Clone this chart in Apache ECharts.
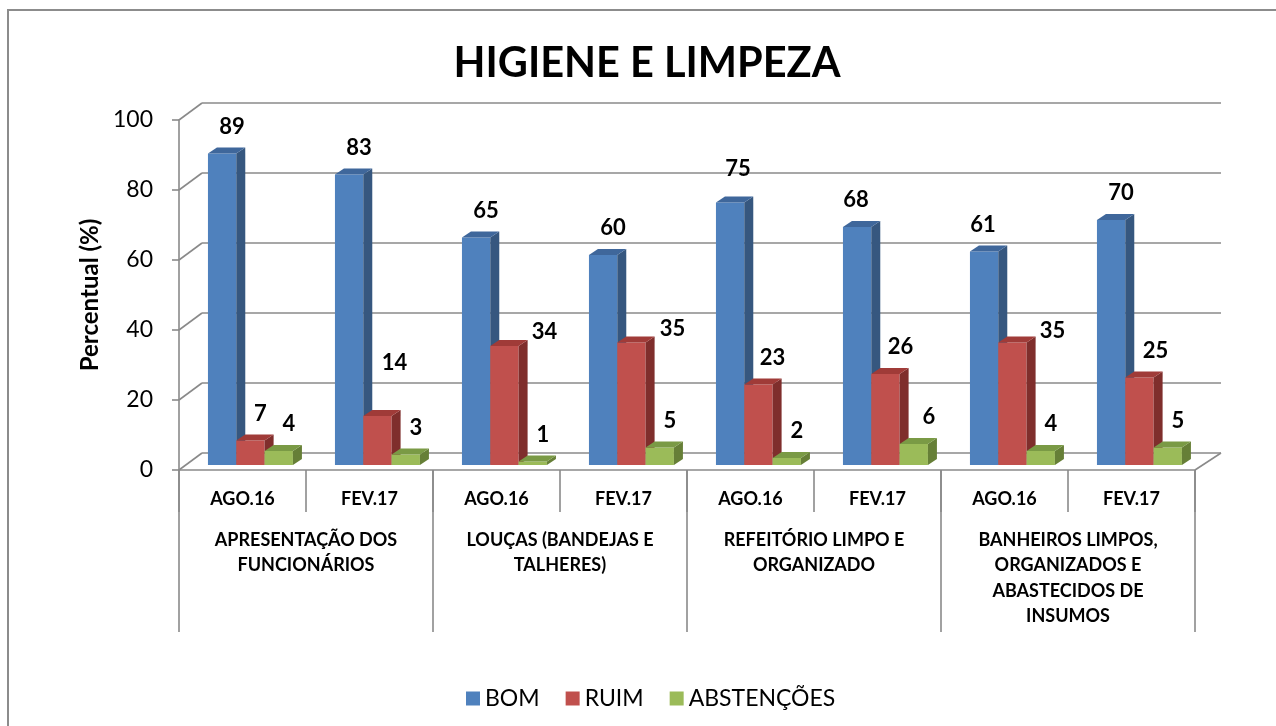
<!DOCTYPE html>
<html>
<head>
<meta charset="utf-8">
<script src="https://cdn.jsdelivr.net/npm/echarts@6/dist/echarts.min.js"></script>
<style>
  html, body { margin: 0; padding: 0; background: #ffffff; }
  #chart { width: 1276px; height: 726px; }
</style>
</head>
<body>
<div id="chart"></div>
<script>
// ---- data ----
const subCategories = ['AGO.16', 'FEV.17', 'AGO.16', 'FEV.17', 'AGO.16', 'FEV.17', 'AGO.16', 'FEV.17'];
const groupCategories = [
  'APRESENTAÇÃO DOS\nFUNCIONÁRIOS',
  'LOUÇAS (BANDEJAS E\nTALHERES)',
  'REFEITÓRIO LIMPO E\nORGANIZADO',
  'BANHEIROS LIMPOS,\nORGANIZADOS E\nABASTECIDOS DE\nINSUMOS'
];
const seriesNames = ['BOM', 'RUIM', 'ABSTENÇÕES'];
const bom = [89, 83, 65, 60, 75, 68, 61, 70];
const ruim = [7, 14, 34, 35, 23, 26, 35, 25];
const abstencoes = [4, 3, 1, 5, 2, 6, 4, 5];
const yTicks = [0, 20, 40, 60, 80, 100];

// ---- styling / layout ----
const FONT = 'Lato, "Open Sans", sans-serif';
const palette = [
  { front: '#4F81BD', side: '#36577F', top: '#3F679B' },
  { front: '#C0504D', side: '#7F2E2C', top: '#A03B38' },
  { front: '#9BBB59', side: '#667F37', top: '#7A9A45' }
];
const GRID_COLOR = '#8a8a8a';
const WALL_DX = 23, WALL_DX_R = 26, WALL_DY = -17;   // back wall depth
const BAR_DX = 9, BAR_DY = -6;                       // bar depth
const BAR_BASE_DX = 0, BAR_BASE_DY = -5;             // bars sit slightly behind front plane
const CLUSTER_START = 0.228, BAR_FRAC = 0.223;
const LABEL_DX = 10, LABEL_DY = -27;
// manual label nudges (series-index, category-index): [dx, dy]
const labelNudge = {
  '1-1': [7, -26], '1-2': [30, 13], '1-3': [31, 13], '1-6': [30, 15],
  '0-4': [-2, -7], '0-5': [-11, 0], '0-6': [-11, 0],
  '1-4': [4, 0], '1-5': [5, 0], '2-5': [5, 0], '1-7': [6, 0]
};

const chart = echarts.init(document.getElementById('chart'), null, { renderer: 'canvas' });

function wallRender(params, api) {
  const v = api.value(1);
  const bw = api.size([1, 0])[0];
  const pL = api.coord([0, v]);
  const left = pL[0] - bw / 2;
  const right = api.coord([subCategories.length - 1, v])[0] + bw / 2;
  const y = pL[1];
  const st = { stroke: GRID_COLOR, lineWidth: 1.6 };
  const children = [
    { type: 'line', shape: { x1: left, y1: y, x2: left + WALL_DX, y2: y + WALL_DY }, style: st },
    { type: 'line', shape: { x1: left + WALL_DX, y1: y + WALL_DY, x2: right + WALL_DX_R, y2: y + WALL_DY }, style: st }
  ];
  if (v === 0) {
    children.push({ type: 'line', shape: { x1: right, y1: y, x2: right + WALL_DX_R, y2: y + WALL_DY }, style: st });
  }
  return { type: 'group', children };
}

function makeBarSeries(sIdx, values) {
  const col = palette[sIdx];
  return {
    type: 'custom',
    name: seriesNames[sIdx],
    xAxisIndex: 0,
    yAxisIndex: 0,
    itemStyle: { color: col.front },
    data: values.map((v, i) => [i, v]),
    z: 3,
    renderItem: function (params, api) {
      const i = api.value(0);
      const v = api.value(1);
      const bw = api.size([1, 0])[0];
      const base = api.coord([i, 0]);
      const top = api.coord([i, v]);
      const w = bw * BAR_FRAC;
      const x0 = base[0] - bw / 2 + bw * CLUSTER_START + sIdx * w + BAR_BASE_DX;
      const yb = base[1] + BAR_BASE_DY;
      const yt = top[1] + BAR_BASE_DY;
      const nudge = labelNudge[sIdx + '-' + i] || [0, 0];
      return {
        type: 'group',
        children: [
          { type: 'rect', shape: { x: x0, y: yt, width: w, height: yb - yt }, style: { fill: col.front } },
          { type: 'polygon', shape: { points: [[x0 + w, yt], [x0 + w + BAR_DX, yt + BAR_DY], [x0 + w + BAR_DX, yb + BAR_DY], [x0 + w, yb]] }, style: { fill: col.side } },
          { type: 'polygon', shape: { points: [[x0, yt], [x0 + BAR_DX, yt + BAR_DY], [x0 + w + BAR_DX, yt + BAR_DY], [x0 + w, yt]] }, style: { fill: col.top } },
          { type: 'text', z2: 100, style: {
              text: String(v), x: x0 + w / 2 + LABEL_DX + nudge[0], y: yt + LABEL_DY + nudge[1],
              align: 'center', verticalAlign: 'middle',
              fontFamily: FONT, fontWeight: 'bold', fontSize: 22, fill: '#000' } }
        ]
      };
    }
  };
}

const option = {
  backgroundColor: '#ffffff',
  animation: false,
  title: {
    text: 'HIGIENE E LIMPEZA',
    left: 642,
    textAlign: 'center',
    top: 38,
    textStyle: { fontFamily: FONT, fontWeight: 'bold', fontSize: 41.5, color: '#000' }
  },
  graphic: [{
    type: 'rect', silent: true, z: -10,
    shape: { x: 8, y: 10, width: 1400, height: 900 },
    style: { fill: 'none', stroke: '#8c8c8c', lineWidth: 2 }
  }],
  legend: {
    data: seriesNames,
    left: 461,
    top: 682,
    icon: 'rect',
    itemWidth: 14,
    itemHeight: 14,
    itemGap: 26,
    textStyle: { fontFamily: FONT, fontSize: 23, color: '#000' }
  },
  grid: { left: 179, right: 81, top: 120, bottom: 256, containLabel: false },
  xAxis: [
    {
      type: 'category',
      data: subCategories,
      position: 'bottom',
      boundaryGap: true,
      axisLine: { show: true, lineStyle: { color: GRID_COLOR, width: 1.6 } },
      axisTick: { show: true, length: 42, interval: 0, lineStyle: { color: GRID_COLOR, width: 1.6 } },
      axisLabel: { interval: 0, margin: 20, fontFamily: FONT, fontWeight: 'bold', fontSize: 18, color: '#000' },
      splitLine: { show: false }
    },
    {
      type: 'category',
      data: groupCategories,
      position: 'bottom',
      boundaryGap: true,
      axisLine: { show: false },
      axisTick: { show: true, length: 162, interval: 0, lineStyle: { color: GRID_COLOR, width: 1.6 } },
      axisLabel: { interval: 0, margin: 57, fontFamily: FONT, fontWeight: 'bold', fontSize: 18, lineHeight: 25.5, color: '#000', align: 'center' },
      splitLine: { show: false }
    }
  ],
  yAxis: {
    type: 'value',
    min: 0,
    max: 100,
    interval: 20,
    name: 'Percentual (%)',
    nameLocation: 'middle',
    nameRotate: 90,
    nameGap: 76,
    nameTextStyle: { fontFamily: FONT, fontWeight: 'bold', fontSize: 24, color: '#000' },
    axisLine: { show: true, lineStyle: { color: GRID_COLOR, width: 1.6 } },
    axisTick: { show: true, length: 7, lineStyle: { color: GRID_COLOR, width: 1.6 } },
    axisLabel: { margin: 26, fontFamily: FONT, fontSize: 23, color: '#000' },
    splitLine: { show: false }
  },
  series: [
    {
      type: 'custom',
      name: 'walls',
      silent: true,
      xAxisIndex: 0,
      yAxisIndex: 0,
      z: 1,
      data: yTicks.map(v => [0, v]),
      renderItem: wallRender
    },
    makeBarSeries(0, bom),
    makeBarSeries(1, ruim),
    makeBarSeries(2, abstencoes)
  ]
};

chart.setOption(option);
</script>
</body>
</html>
